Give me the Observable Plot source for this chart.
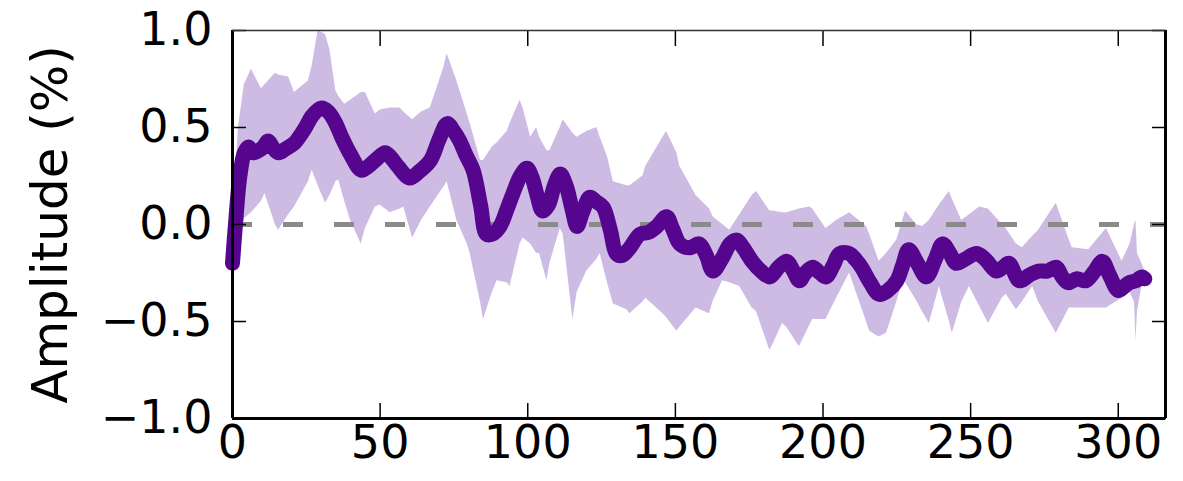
<!DOCTYPE html>
<html><head><meta charset="utf-8">
<script src="https://cdn.jsdelivr.net/npm/d3@7"></script>
<script src="https://cdn.jsdelivr.net/npm/@observablehq/plot@0.6"></script>
<style>body{margin:0;background:#fff}</style>
</head><body><div id="chart"></div>
<script>
// ---- data ----
const xDomain = [0, 316];
const yDomain = [-1, 1];
const xTicks = [0, 50, 100, 150, 200, 250, 300];
const yTicks = [-1, -0.5, 0, 0.5, 1];
const yLabel = "Amplitude (%)";

const meanT = [0,1,2.5,4,5.4,7,8.8,10.5,12,14,15.6,18,21,23,24.7,27,30,32.5,35,37,40,43.6,46,49,51.7,53.4,56,60,63,67,70,72.7,75,77,79,81.5,84,86,88,90.6,93,95,97.5,99.7,101.5,103,105,107,109,111,113,115,116.7,118.5,121,123,125.5,128,130,132,134.6,138,141,143.7,147,149,151.5,155,158,160.5,162.7,166,168.5,170.8,173,176,179,182,185,187.7,190,192,194,196.5,199,201,203.5,205.6,209,211,213,216,219,222,225,227,229,232,235,238,240.5,243,245,248,252,255,258.7,261,263,266.5,270,273,276,279,281,283,286,289,292,294.6,297,300,302,303.7,306,308,309];
const meanAmp = [-0.20,0.0,0.25,0.37,0.40,0.37,0.38,0.40,0.43,0.39,0.37,0.39,0.42,0.46,0.50,0.56,0.60,0.58,0.52,0.45,0.36,0.28,0.30,0.34,0.37,0.35,0.30,0.24,0.27,0.33,0.44,0.52,0.48,0.43,0.36,0.28,0.10,-0.05,-0.05,-0.01,0.08,0.16,0.25,0.29,0.24,0.16,0.07,0.10,0.20,0.26,0.20,0.08,-0.01,0.06,0.14,0.12,0.09,-0.03,-0.15,-0.16,-0.12,-0.05,-0.04,-0.01,0.04,-0.02,-0.10,-0.12,-0.10,-0.16,-0.24,-0.17,-0.10,-0.08,-0.12,-0.19,-0.24,-0.27,-0.22,-0.19,-0.24,-0.29,-0.25,-0.22,-0.25,-0.27,-0.21,-0.15,-0.15,-0.18,-0.22,-0.30,-0.36,-0.34,-0.29,-0.21,-0.13,-0.20,-0.27,-0.18,-0.10,-0.15,-0.20,-0.18,-0.15,-0.18,-0.24,-0.22,-0.20,-0.29,-0.26,-0.24,-0.24,-0.22,-0.27,-0.30,-0.28,-0.29,-0.24,-0.19,-0.26,-0.34,-0.32,-0.30,-0.29,-0.27,-0.28];

const bandT = [0,2,4,6.4,9.8,11,14.5,15.6,19,21,25.7,27,29,31.5,33,35,36,38,40,43.6,45,48.4,50,53.4,56.8,58,61,64,67,71.4,72.7,76,79.5,80.5,84,85,88,89.6,93,94,97.4,98.4,101,103,104,106.5,107.5,111,112,115.3,116.7,120,123.4,124.5,127,129,133.6,134.6,139,140,145.8,147,150.5,151.5,157,161.6,162.7,166,168.4,171.8,176,177.5,182,183,186.3,187.7,192,195.5,196.5,201,204.6,209,214.7,215.8,219,221.5,225,227,228,231.6,233.7,236,239.4,242.8,243.8,247,249.6,253,256,260.7,262,265.5,267.5,271,273,279,283.4,284.4,290,296,301.3,304,305.5,306,306.5,308,309];
const bandLow = [-0.30,-0.05,0.03,0.06,0.12,0.16,0.0,-0.03,0.05,0.09,0.22,0.28,0.20,0.11,0.15,0.22,0.23,0.12,0.02,-0.10,-0.02,0.09,0.10,0.06,0.08,0.09,-0.07,0.02,0.09,0.19,0.22,0.02,-0.10,-0.15,-0.40,-0.49,-0.35,-0.29,-0.30,-0.32,-0.10,-0.07,-0.10,-0.15,-0.15,-0.29,-0.20,-0.02,-0.05,-0.49,-0.35,-0.24,-0.18,-0.15,-0.30,-0.41,-0.44,-0.46,-0.40,-0.38,-0.46,-0.48,-0.55,-0.53,-0.43,-0.46,-0.40,-0.29,-0.30,-0.32,-0.43,-0.45,-0.65,-0.62,-0.51,-0.53,-0.63,-0.52,-0.49,-0.49,-0.38,-0.25,-0.50,-0.55,-0.58,-0.56,-0.40,-0.29,-0.30,-0.39,-0.45,-0.51,-0.32,-0.50,-0.56,-0.40,-0.32,-0.42,-0.51,-0.38,-0.36,-0.44,-0.40,-0.32,-0.40,-0.56,-0.43,-0.43,-0.43,-0.43,-0.38,-0.35,-0.40,-0.60,-0.45,-0.32,-0.30];
const bandHigh = [-0.05,0.50,0.72,0.80,0.70,0.72,0.78,0.77,0.76,0.68,0.74,0.82,1.0,0.98,0.90,0.69,0.66,0.62,0.64,0.68,0.68,0.57,0.59,0.60,0.60,0.58,0.54,0.58,0.60,0.80,0.88,0.74,0.57,0.52,0.33,0.33,0.40,0.42,0.48,0.52,0.64,0.60,0.45,0.50,0.45,0.38,0.38,0.50,0.54,0.47,0.45,0.48,0.50,0.45,0.35,0.22,0.20,0.20,0.25,0.30,0.45,0.48,0.37,0.30,0.15,0.08,0.04,0.0,-0.03,0.05,0.15,0.17,0.07,0.07,0.06,0.06,0.08,0.09,0.08,-0.02,0.02,0.06,-0.01,-0.05,-0.19,-0.15,-0.08,0.02,0.07,0.0,-0.01,0.02,0.10,0.17,0.13,0.02,0.05,0.09,0.08,0.0,-0.02,-0.10,-0.12,-0.06,-0.03,0.11,-0.08,-0.12,-0.13,-0.02,-0.19,-0.10,0.0,0.02,-0.15,-0.20,-0.24];

// ---- tables for the library ----
const mean = meanT.map((t, i) => ({t, amp: meanAmp[i]}));
const band = bandT.map((t, i) => ({t, lo: bandLow[i], hi: bandHigh[i]}));
const fmt = d3.format(".1f");

const chart = Plot.plot({
  width: 1183, height: 481,
  marginTop: 30, marginBottom: 63, marginLeft: 232, marginRight: 18,
  style: {fontFamily: "'DejaVu Sans', sans-serif", fontSize: "46px", color: "#000", background: "#fff"},
  x: {domain: xDomain},
  y: {domain: yDomain},
  marks: [
    Plot.areaY(band, {x: "t", y1: "lo", y2: "hi", fill: "#cdbbe4"}),
    Plot.ruleY([0], {stroke: "#8a8a8a", strokeWidth: 5, strokeDasharray: "20 31"}),
    Plot.line(mean, {x: "t", y: "amp", stroke: "#56058f", strokeWidth: 15, curve: "catmull-rom", strokeLinejoin: "round", strokeLinecap: "round"}),
    Plot.axisX(xTicks, {anchor: "bottom", tickSize: -15, tickPadding: 22, tickFormat: d => String(d), label: null, strokeWidth: 1.5}),
    Plot.axisX(xTicks, {anchor: "top", tickSize: -15, tickFormat: () => "", label: null, strokeWidth: 1.5}),
    Plot.axisY(yTicks, {anchor: "left", tickSize: -14, tickPadding: 34, tickFormat: fmt, label: null, strokeWidth: 1.5}),
    Plot.axisY(yTicks, {anchor: "right", tickSize: -14, tickFormat: () => "", label: null, strokeWidth: 1.5}),
    Plot.ruleX([xDomain[0], xDomain[1]], {stroke: "#000", strokeWidth: 3}),
    Plot.ruleY([yDomain[0]], {stroke: "#000", strokeWidth: 3}),
    Plot.ruleY([yDomain[1]], {stroke: "#333", strokeWidth: 1.5}),
    Plot.text([yLabel], {frameAnchor: "left", dx: -182, rotate: -90, fontSize: 50, fill: "#000", textAnchor: "middle"})
  ]
});
document.getElementById("chart").append(chart);
</script>
</body></html>
